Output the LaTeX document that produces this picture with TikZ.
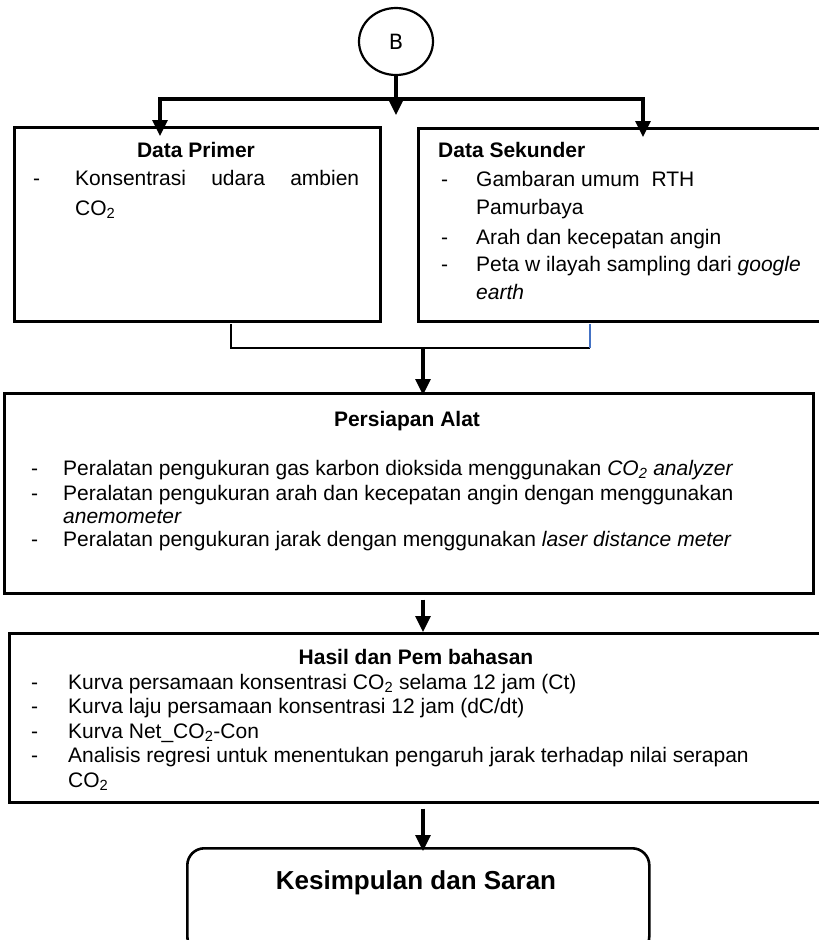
\documentclass[tikz,border=0pt]{standalone}
\usepackage{fontspec}
\setmainfont{Liberation Sans}
\newfontfamily\dejavu{DejaVu Sans}
\usetikzlibrary{arrows.meta,shapes.geometric,calc}
\definecolor{linkblue}{HTML}{4472C4}
\newcommand{\cotwo}{CO\textsubscript{2}}

\begin{document}
\begin{tikzpicture}[x=1pt, y=-1pt, box/.style={draw, line width=2.6pt, rectangle, anchor=north west, inner sep=0pt}, txt/.style={anchor=base west, inner sep=0pt, font=\fontsize{21}{25}\selectfont}, head/.style={anchor=base, inner sep=0pt, font=\fontsize{21}{25}\selectfont\bfseries}, arr/.style={line width=3.2pt, -{Triangle[length=16pt,width=15pt]}}, thin line/.style={line width=1.8pt}]
\useasboundingbox (0,0) rectangle (819,940);
\node[ellipse, draw, line width=2.2pt, minimum width=74pt, minimum height=67pt, inner sep=0pt, font=\dejavu\fontsize{21}{25}\selectfont] (B) at (396,41.5) {B};
\node[box, minimum width=366pt, minimum height=194pt] (prim) at (13,126) {};
\node[box, minimum width=430pt, minimum height=193pt] (sek) at (417,127) {};
\node[box, minimum width=809pt, minimum height=200pt] (alat) at (3,392) {};
\node[box, minimum width=830pt, minimum height=169pt] (hasil) at (8,632) {};
\node[box, rounded corners=17pt, minimum width=462pt, minimum height=105pt] (simp) at (186,847) {};

\coordinate (split) at (396,99);
\coordinate (Bend) at (396,115);
\coordinate (lsplit) at (160,99);
\coordinate (rsplit) at (643,99);
\coordinate (bl) at (231,324);
\coordinate (br) at (590,324);
\coordinate (bm) at (423,348);

\draw[arr] (B) -- (Bend);
\draw[arr, shorten >=-10pt] (split) -| (prim.north -| lsplit);
\draw[arr, shorten >=-10pt] (split) -| (sek.north -| rsplit);
\draw[thin line] (bl) |- (br |- bm);
\draw[thin line, linkblue] (br |- bm) -- (br);
\draw[arr, shorten >=-3pt] (bm) -- (alat.north -| bm);
\draw[arr, shorten <=5pt] (alat.south -| bm) -- (hasil.north -| bm);
\draw[arr, shorten <=5pt, shorten >=-4pt] (hasil.south -| bm) -- (simp.north -| bm);

\node[head] (prim-h) at (196,157) {Data Primer};
\node[txt] (prim-d1) at (33,185) {-};
\node[txt] (prim-1) at (75,185) {\makebox[284pt][s]{Konsentrasi udara ambien}};
\node[txt] (prim-1b) at (75,215) {\cotwo};

\node[txt, font=\fontsize{21}{25}\selectfont\bfseries] (sek-h) at (438,157) {Data Sekunder};
\node[txt] (sek-d1) at (441,186) {-};
\node[txt] (sek-1) at (476,186) {Gambaran umum\hspace{12pt}RTH};
\node[txt] (sek-1b) at (476,214) {Pamurbaya};
\node[txt] (sek-d2) at (441,244) {-};
\node[txt] (sek-2) at (476,244) {Arah dan kecepatan angin};
\node[txt] (sek-d3) at (441,271) {-};
\node[txt] (sek-3) at (476,271) {Peta w ilayah sampling dari \textit{google}};
\node[txt] (sek-3b) at (476,299) {\textit{earth}};

\node[head] (alat-h) at (407,426) {Persiapan Alat};
\node[txt] (alat-d1) at (31,475) {-};
\node[txt] (alat-1) at (63,475) {Peralatan pengukuran gas karbon dioksida menggunakan \textit{\cotwo\ analyzer}};
\node[txt] (alat-d2) at (31,500) {-};
\node[txt] (alat-2) at (63,500) {Peralatan pengukuran arah dan kecepatan angin dengan menggunakan};
\node[txt] (alat-2b) at (63,523) {\textit{anemometer}};
\node[txt] (alat-d3) at (31,546) {-};
\node[txt] (alat-3) at (63,546) {Peralatan pengukuran jarak dengan menggunakan \textit{laser distance meter}};

\node[head] (hasil-h) at (416,664) {Hasil dan Pem bahasan};
\node[txt] (hasil-d1) at (31,689) {-};
\node[txt] (hasil-1) at (68,689) {Kurva persamaan konsentrasi \cotwo\ selama 12 jam (Ct)};
\node[txt] (hasil-d2) at (31,713) {-};
\node[txt] (hasil-2) at (68,713) {Kurva laju persamaan konsentrasi 12 jam (dC/dt)};
\node[txt] (hasil-d3) at (31,738) {-};
\node[txt] (hasil-3) at (68,738) {Kurva Net\_\cotwo-Con};
\node[txt] (hasil-d4) at (31,762) {-};
\node[txt] (hasil-4) at (68,762) {Analisis regresi untuk menentukan pengaruh jarak terhadap nilai serapan};
\node[txt] (hasil-4b) at (68,787) {\cotwo};

\node[anchor=base, inner sep=0pt, font=\fontsize{26}{30}\selectfont\bfseries] (simp-t) at (416,889) {Kesimpulan dan Saran};
\end{tikzpicture}
\end{document}
